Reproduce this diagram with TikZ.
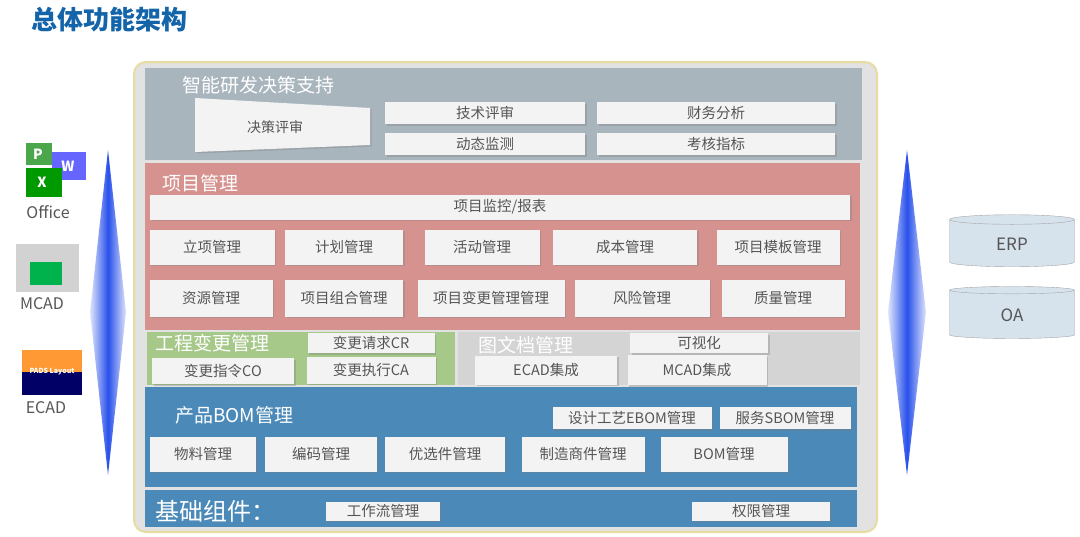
\documentclass[tikz,border=0pt]{standalone}
\usepackage{fontspec}
\setmainfont{Noto Sans CJK SC}
\usetikzlibrary{shapes.geometric,shadows}
\definecolor{titleblue}{RGB}{20,100,170}
\definecolor{bandgray}{RGB}{169,181,189}
\definecolor{bandred}{RGB}{214,146,143}
\definecolor{bandgreen}{RGB}{166,200,137}
\definecolor{bandlight}{RGB}{212,212,212}
\definecolor{bandblue}{RGB}{74,137,184}
\definecolor{boxfill}{RGB}{243,243,243}
\definecolor{boxtext}{RGB}{85,85,85}
\definecolor{framefill}{RGB}{226,226,226}
\definecolor{frameedge}{RGB}{232,220,160}
\definecolor{arrowblue}{RGB}{40,80,235}
\definecolor{dbfill}{RGB}{214,226,236}
\tikzset{
  box/.style={draw=none, fill=boxfill, text=boxtext, inner sep=0pt,
    font=\fontsize{14.5}{14.5}\selectfont, drop shadow={shadow xshift=1.5pt, shadow yshift=-1.5pt, opacity=0.35}},
  bandtitle/.style={text=white, anchor=west, inner sep=0pt, font=\fontsize{19}{19}\selectfont},
  db/.style={cylinder, shape border rotate=90, aspect=0.25, draw=gray!70, fill=dbfill,
    minimum width=125pt, minimum height=52pt, text=boxtext, font=\fontsize{17}{17}\selectfont},
  icon label/.style={text=boxtext, font=\fontsize{16}{16}\selectfont, inner sep=0pt},
}
\begin{document}
\begin{tikzpicture}[x=1pt, y=-1pt]
\useasboundingbox (0,0) rectangle (1080,536);
\node[anchor=west, text=titleblue, font=\fontsize{26}{26}\selectfont\bfseries] (title) at (28,20) {总体功能架构};
% frame
\draw[frameedge, line width=2pt, fill=framefill, rounded corners=12pt] (134,62) rectangle (877,532);
% decision band
\fill[bandgray] (145,68) rectangle (862,160);
\node[bandtitle] (zn) at (182,85) {智能研发决策支持};
\fill[boxfill, drop shadow={shadow xshift=1.5pt, shadow yshift=-1.5pt, opacity=0.35}] (195,98) -- (370,108) -- (370,145) -- (195,152) -- cycle;
\node[text=boxtext, font=\fontsize{14}{14}\selectfont] (jcps) at (275,127) {决策评审};
\node[box, minimum width=200pt, minimum height=22pt] (jspx) at (485,113) {技术评审};
\node[box, minimum width=238pt, minimum height=22pt] (cwfx) at (716,113) {财务分析};
\node[box, minimum width=200pt, minimum height=22pt] (dtjc) at (485,144) {动态监测};
\node[box, minimum width=238pt, minimum height=22pt] (khzb) at (716,144) {考核指标};
% project band
\fill[bandred] (145,163) rectangle (860,330);
\node[bandtitle] (xm) at (162,183) {项目管理};
\node[box, minimum width=700pt, minimum height=25pt] (jkbb) at (500,207) {项目监控/报表};
\node[box, minimum width=125pt, minimum height=35pt] (lx) at (212,247) {立项管理};
\node[box, minimum width=118pt, minimum height=35pt] (jh) at (344,247) {计划管理};
\node[box, minimum width=115pt, minimum height=35pt] (hd) at (482,247) {活动管理};
\node[box, minimum width=144pt, minimum height=35pt] (cb) at (625,247) {成本管理};
\node[box, minimum width=123pt, minimum height=35pt] (mb) at (778,247) {项目模板管理};
\node[box, minimum width=123pt, minimum height=37pt] (zy) at (211,298) {资源管理};
\node[box, minimum width=118pt, minimum height=37pt] (zh) at (344,298) {项目组合管理};
\node[box, minimum width=147pt, minimum height=37pt] (bg) at (491,298) {项目变更管理管理};
\node[box, minimum width=135pt, minimum height=37pt] (fx) at (642,298) {风险管理};
\node[box, minimum width=123pt, minimum height=37pt] (zl) at (783,298) {质量管理};
% change band
\fill[bandgreen] (147,332) rectangle (455,385);
\node[bandtitle] (gc) at (155,343) {工程变更管理};
\node[box, minimum width=127pt, minimum height=20pt] (cr) at (371,343) {变更请求CR};
\node[box, minimum width=142pt, minimum height=26pt] (co) at (223,371) {变更指令CO};
\node[box, minimum width=129pt, minimum height=27pt] (ca) at (371,370) {变更执行CA};
% document band
\fill[bandlight] (458,332) rectangle (860,385);
\node[bandtitle] (tw) at (478,345) {图文档管理};
\node[box, minimum width=138pt, minimum height=20pt] (ksh) at (699,343) {可视化};
\node[box, minimum width=142pt, minimum height=29pt] (ecad) at (546,370) {ECAD集成};
\node[box, minimum width=139pt, minimum height=30pt] (mcad) at (697,370) {MCAD集成};
% bom band
\fill[bandblue] (145,387) rectangle (857,487);
\node[bandtitle] (bom) at (175,415) {产品BOM管理};
\node[box, minimum width=159pt, minimum height=22pt] (ebom) at (632,418) {设计工艺EBOM管理};
\node[box, minimum width=131pt, minimum height=22pt] (sbom) at (785,418) {服务SBOM管理};
\node[box, minimum width=106pt, minimum height=35pt] (wl) at (203,454) {物料管理};
\node[box, minimum width=112pt, minimum height=35pt] (bm) at (321,454) {编码管理};
\node[box, minimum width=120pt, minimum height=35pt] (yx) at (445,454) {优选件管理};
\node[box, minimum width=123pt, minimum height=35pt] (zz) at (583,454) {制造商件管理};
\node[box, minimum width=127pt, minimum height=35pt] (bomgl) at (724,454) {BOM管理};
% base band
\fill[bandblue] (145,490) rectangle (857,527);
\node[bandtitle, font=\fontsize{24}{24}\selectfont] (jc) at (155,511) {基础组件：};
\node[box, minimum width=114pt, minimum height=19pt] (gzl) at (383,511) {工作流管理};
\node[box, minimum width=138pt, minimum height=19pt] (qx) at (761,511) {权限管理};
% side arrows
\shade[left color=arrowblue!15, right color=arrowblue!15, middle color=arrowblue] (108,150) -- (126,312) -- (108,475) -- (90,312) -- cycle;
\shade[left color=arrowblue!15, right color=arrowblue!15, middle color=arrowblue] (907,150) -- (926,312) -- (907,475) -- (888,312) -- cycle;
% databases
\node[db] (erp) at (1012,244) {ERP};
\node[db] (oa) at (1012,315) {OA};
% left icons
\fill[green!50!black!70] (26,143) rectangle (52,165);
\fill[blue!60] (52,152) rectangle (86,180);
\fill[green!60!black] (26,168) rectangle (62,197);
\node[text=white, font=\bfseries\fontsize{14}{14}\selectfont] (pi) at (38,154) {P};
\node[text=white, font=\bfseries\fontsize{14}{14}\selectfont] (wi) at (68,166) {W};
\node[text=white, font=\bfseries\fontsize{14}{14}\selectfont] (xi) at (42,182) {X};
\node[icon label] (office) at (48,212) {Office};
\fill[gray!35] (16,244) rectangle (79,292);
\fill[teal!60!green] (30,262) rectangle (62,285);
\node[icon label] (mcadl) at (42,304) {MCAD};
\fill[orange!80] (22,350) rectangle (82,372);
\fill[blue!40!black] (22,372) rectangle (82,395);
\node[text=white, font=\bfseries\fontsize{7}{7}\selectfont] (pads) at (52,372) {PADS Layout};
\node[icon label] (ecadl) at (46,408) {ECAD};
\end{tikzpicture}
\end{document}
